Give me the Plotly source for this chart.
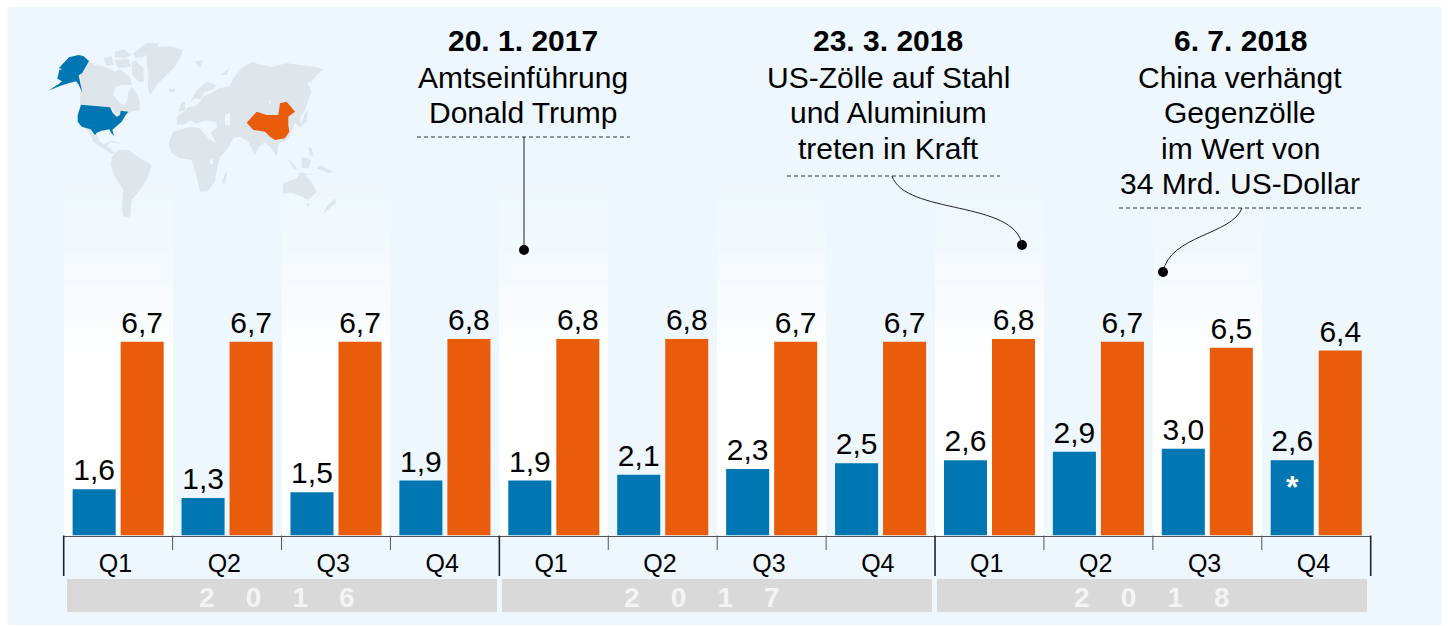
import plotly.graph_objects as go

# Quarterly GDP growth, percent
quarters = ["Q1", "Q2", "Q3", "Q4"] * 3
years = ["2016", "2017", "2018"]
usa_growth = [1.6, 1.3, 1.5, 1.9, 1.9, 2.1, 2.3, 2.5, 2.6, 2.9, 3.0, 2.6]
china_growth = [6.7, 6.7, 6.7, 6.8, 6.8, 6.8, 6.7, 6.7, 6.8, 6.7, 6.5, 6.4]

# Timeline callouts: heading, body lines
event_dates = ["20. 1. 2017", "23. 3. 2018", "6. 7. 2018"]
event_lines = [
    ["Amtseinführung", "Donald Trump"],
    ["US-Zölle auf Stahl", "und Aluminium", "treten in Kraft"],
    ["China verhängt", "Gegenzölle", "im Wert von", "34 Mrd. US-Dollar"],
]

W, H = 1448, 626
FONT = "Liberation Sans"
BLUE = "#0076B2"
ORANGE = "#E85C0B"
PANEL = "#EEF7FD"
LAND = "#DFE6EB"
BASE_PX = 535.5
UNIT_PX = 28.9
LEFT_PX, RIGHT_PX = 63.7, 1370.7
CELL = (RIGHT_PX - LEFT_PX) / 12

x_index = list(range(12))

# World map silhouettes, outlined at triple size and scaled down when drawn
land_shapes = [
    [(267,183),(285,195),(310,199),(330,207),(345,215),(360,208),(375,220),(390,232),(395,255),(365,255),(345,262),(340,285),(360,310),(372,315),(382,300),(385,275),(395,262),(410,280),(418,300),(420,330),(395,335),(385,340),(365,350),(345,340),(335,325),(240,315),(243,222)],
    [(345,155),(370,148),(395,165),(375,175),(345,172)],
    [(310,175),(335,168),(340,195),(318,197)],
    [(342,180),(385,176),(392,200),(355,205)],
    [(400,160),(440,128),(478,130),(465,150),(430,170),(405,175)],
    [(395,190),(405,180),(430,205),(432,245),(415,245),(398,225)],
    [(440,160),(470,140),(510,138),(548,150),(540,175),(525,200),(500,225),(475,250),(450,285),(443,262),(445,225),(440,190)],
    [(505,268),(525,265),(525,275),(510,277)],
    [(585,185),(610,180),(600,205)],
    [(245,380),(272,388),(285,406),(292,400),(297,422),(310,432),(332,425),(322,440),(330,445),(345,458),(335,462),(318,450),(300,440),(280,425),(268,400),(255,385)],
    [(320,420),(350,425),(365,432),(340,428)],
    [(335,470),(355,450),(385,450),(420,475),(455,495),(440,540),(415,575),(395,600),(390,650),(370,650),(365,620),(370,570),(345,530),(332,495)],
    [(520,395),(570,380),(600,385),(625,415),(680,450),(660,470),(650,510),(645,545),(620,575),(600,575),(590,530),(575,480),(540,475),(515,460),(505,430)],
    [(675,520),(682,515),(675,550),(665,550)],
    [(530,375),(530,350),(545,340),(565,322),(585,318),(600,305),(608,290),(635,278),(660,265),(690,258),(700,235),(725,205),(755,185),(785,195),(815,200),(860,190),(900,195),(945,200),(970,208),(950,225),(935,245),(922,250),(935,275),(925,300),(915,330),(900,355),(905,385),(885,370),(875,395),(862,420),(835,430),(830,470),(810,440),(795,425),(778,440),(765,465),(745,425),(720,410),(700,415),(685,445),(660,462),(642,415),(632,395),(650,385),(650,365),(615,362),(590,370),(570,362),(555,372)],
    [(570,308),(590,270),(620,245),(650,255),(640,268),(615,275),(600,298),(585,295)],
    [(665,225),(690,200),(680,225)],
    [(545,305),(555,305),(555,330),(535,335)],
    [(915,340),(925,330),(920,365),(895,385),(905,365)],
    [(860,475),(875,485),(895,510),(880,505)],
    [(905,470),(935,480),(925,505),(905,505)],
    [(925,440),(935,445),(940,470),(928,465)],
    [(960,495),(1000,515),(985,520),(950,505)],
    [(895,518),(945,525),(895,525)],
    [(850,550),(890,535),(905,515),(935,545),(950,575),(925,600),(905,590),(880,580),(848,580)],
    [(1005,595),(1008,610),(970,640),(980,620)],
    [(918,610),(930,610),(925,620)],
]
water_shapes = [
    [(675,345),(690,340),(690,378),(675,375)],
    [(630,478),(638,478),(640,492),(630,490)],
    [(806,305),(814,300),(810,318)],
]
usa_shapes = [
    [(243,314),(330,322),(338,338),(350,350),(360,345),(362,332),(385,335),(375,348),(365,365),(350,378),(337,390),(343,408),(333,398),(328,388),(305,392),(290,398),(285,406),(272,388),(245,380),(233,365),(233,345)],
    [(207,172),(235,165),(250,168),(267,183),(246,220),(236,226),(247,278),(235,252),(228,244),(205,250),(180,258),(145,272),(176,252),(186,244),(172,236),(178,210),(188,207),(176,205)],
]
china_shapes = [
    [(740,368),(770,335),(800,345),(835,345),(840,310),(860,305),(885,335),(865,350),(865,375),(868,395),(855,415),(825,420),(810,410),(795,395),(760,390)],
]


def map_shape(outline, color):
    path = "M " + " L ".join(f"{x / 3:.1f} {y / 3:.1f}" for x, y in outline) + " Z"
    return dict(type="path", xref="x2", yref="y2", path=path, fillcolor=color, line=dict(width=0))


fig = go.Figure()

# Alternating columns that fade from white at the baseline up into the panel colour
wash_edges = [i * 0.1 for i in range(0, 135)]
wash_full, wash_end = 6.0, 13.2
wash_z = []
for lo in wash_edges[:-1]:
    level = min(1.0, max(0.0, (wash_end - lo) / (wash_end - wash_full))) ** 1.8
    wash_z.append([level if c % 2 == 0 else 0 for c in x_index])
fig.add_trace(go.Heatmap(x=[i - 0.5 for i in range(13)], y=wash_edges, z=wash_z, zmin=0, zmax=1,
                         colorscale=[[0, PANEL], [1, "#FFFFFF"]], showscale=False,
                         hoverinfo="skip", zsmooth=False))

bar_text = dict(family=FONT, size=30, color="#000000")
fig.add_trace(go.Bar(x=x_index, y=usa_growth, marker=dict(color=BLUE, line=dict(width=0)),
                     texttemplate="%{y:.1f}", textposition="outside", textfont=bar_text,
                     cliponaxis=False, name="USA"))
fig.add_trace(go.Bar(x=x_index, y=china_growth, marker=dict(color=ORANGE, line=dict(width=0)),
                     texttemplate="%{y:.1f}", textposition="outside", textfont=bar_text,
                     cliponaxis=False, name="China"))

# Callout end points
dot_x = [524, 1022, 1163]
dot_y = [250, 245, 272]
fig.add_trace(go.Scatter(x=dot_x, y=dot_y, xaxis="x2", yaxis="y2", mode="markers",
                         marker=dict(size=10, color="#000000"), hoverinfo="skip"))

shapes = [dict(type="rect", xref="paper", yref="paper", x0=7 / W, x1=1442 / W, y0=1 - 625 / H, y1=1 - 7 / H,
               fillcolor=PANEL, line=dict(width=0), layer="below")]

# Map on the full-page pixel axes
shapes += [map_shape(o, LAND) for o in land_shapes]
shapes += [map_shape(o, PANEL) for o in water_shapes]
shapes += [map_shape(o, BLUE) for o in usa_shapes]
shapes += [map_shape(o, ORANGE) for o in china_shapes]


def px_line(x0, y0, x1, y1, color, width, dash="solid"):
    return dict(type="line", xref="x2", yref="y2", x0=x0, y0=y0, x1=x1, y1=y1,
                line=dict(color=color, width=width, dash=dash))


# Quarter and year separators under the baseline
for i in range(13):
    x = LEFT_PX + i * CELL
    if i % 4 == 0:
        shapes.append(px_line(x, BASE_PX, x, 576, "#222222", 1.6))
    else:
        shapes.append(px_line(x, BASE_PX, x, 550, "#555555", 1))

annotations = []


def px_text(x, y, text, size, color="#000000"):
    annotations.append(dict(xref="x2", yref="y2", x=x, y=y, text=text, showarrow=False,
                            font=dict(family=FONT, size=size, color=color),
                            xanchor="center", yanchor="middle"))


# Year bands
band_lefts = [67, 502, 937]
year_centres = [277, 702, 1152]
for left, centre, year in zip(band_lefts, year_centres, years):
    shapes.append(dict(type="rect", xref="x2", yref="y2", x0=left, x1=left + 430, y0=579, y1=612,
                       fillcolor="#D9D9D9", line=dict(width=0)))
    gap = "\u00a0" * 4
    px_text(centre, 597.5, "<b>" + gap.join(year) + "</b>", 28, "#F4F4F4")

# Callout text, rules and leaders
event_x = [523, 888, 1240]
rule_y = [137, 176, 208]
rule_span = [(417, 630), (787, 1000), (1119, 1362)]
leaders = [
    "M 524 137 L 524 250",
    "M 892 176 C 905 215, 1015 200, 1022 245",
    "M 1242 208 C 1232 235, 1170 235, 1163 272",
]
for x, date, lines, ry, span, path in zip(event_x, event_dates, event_lines, rule_y, rule_span, leaders):
    px_text(x, 40, "<b>" + date + "</b>", 30)
    for n, line in enumerate(lines):
        px_text(x, 77 + n * 35.6, line, 30)
    shapes.append(px_line(span[0], ry, span[1], ry, "#333333", 1, "4px,3px"))
    shapes.append(dict(type="path", xref="x2", yref="y2", path=path, line=dict(color="#222222", width=1)))

# Footnote marker on the last US bar
px_text(1292, 487, "<b>*</b>", 32, "#FFFFFF")

# Quarter labels sit a little left of each cell centre
label_shift = -0.025

fig.update_layout(
    width=W, height=H, margin=dict(l=0, r=0, t=0, b=0),
    paper_bgcolor="#FFFFFF", plot_bgcolor="rgba(0,0,0,0)",
    showlegend=False, separators=",.", barmode="group", bargap=0.118, bargroupgap=0.104,
    shapes=shapes, annotations=annotations,
    xaxis=dict(domain=[LEFT_PX / W, RIGHT_PX / W], range=[-0.5, 11.5], tickmode="array",
               tickvals=[i + label_shift for i in x_index], ticktext=quarters, ticks="outside", ticklen=5,
               tickcolor="rgba(0,0,0,0)", tickfont=dict(family=FONT, size=25, color="#000000"),
               showgrid=False, zeroline=False, showline=True, linecolor="#555555", linewidth=1.2),
    yaxis=dict(domain=[1 - BASE_PX / H, 1 - 7 / H], range=[0, (BASE_PX - 7) / UNIT_PX],
               visible=False, showgrid=False, zeroline=False),
    xaxis2=dict(domain=[0, 1], range=[0, W], visible=False, anchor="y2", fixedrange=True),
    yaxis2=dict(domain=[0, 1], range=[H, 0], visible=False, anchor="x2", fixedrange=True),
)

fig.write_html("out.html", config=dict(displayModeBar=False))
